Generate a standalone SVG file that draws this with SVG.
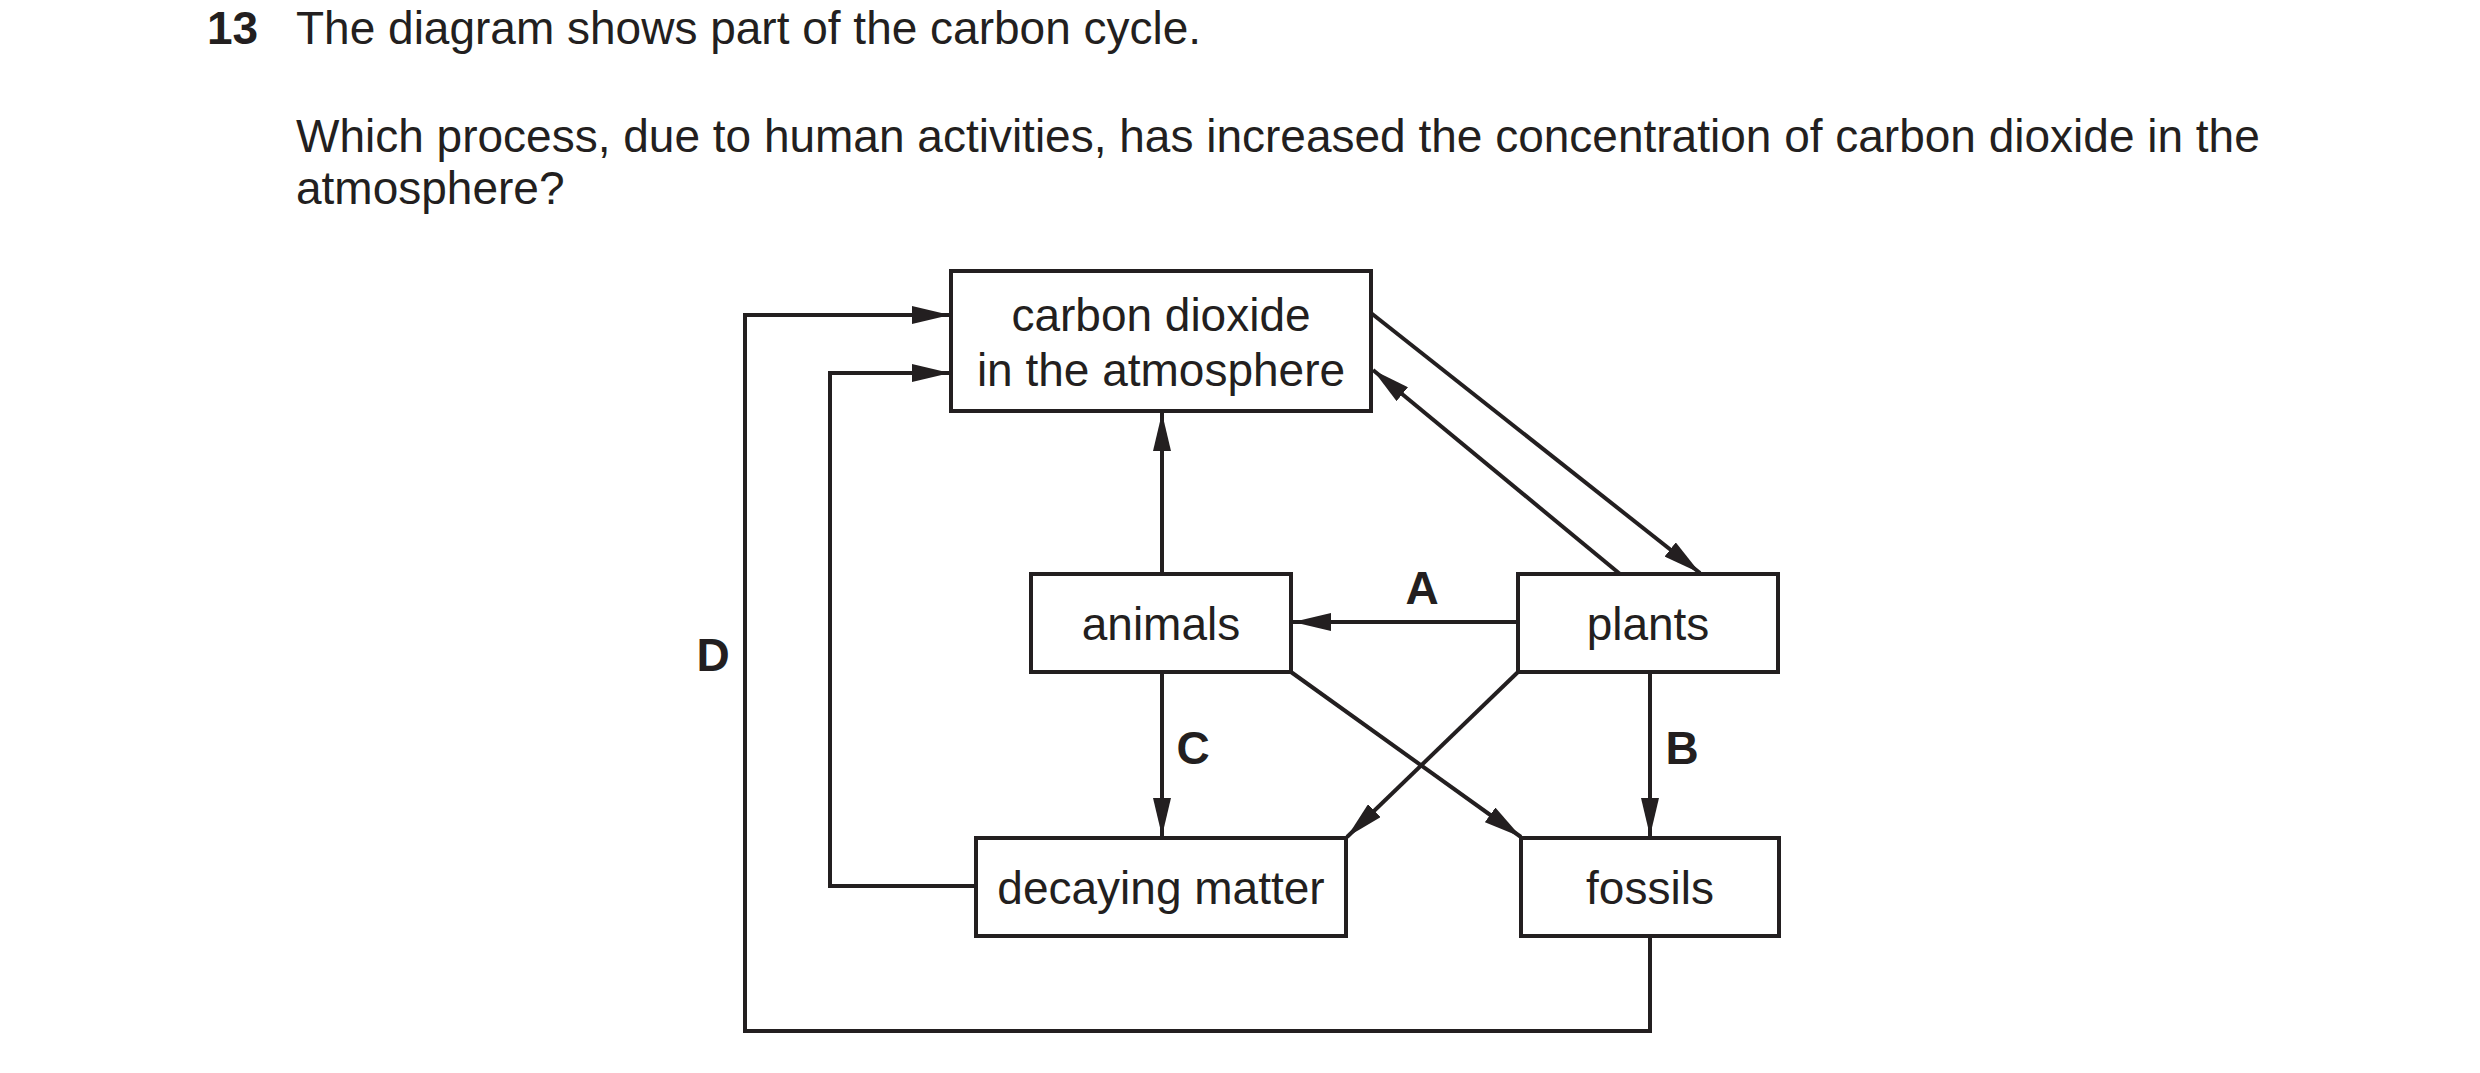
<svg xmlns="http://www.w3.org/2000/svg" width="2480" height="1073" viewBox="0 0 2480 1073">
<style>
text{font-family:"Liberation Sans",Arial,sans-serif;fill:#231f20}
.t{font-size:46px}
.n{font-size:46px;text-anchor:middle}
.l{font-size:46px;font-weight:bold;text-anchor:middle}
rect{fill:#fff;stroke:#231f20;stroke-width:4}
.c{fill:none;stroke:#231f20;stroke-width:4}
</style>
<defs>
<marker id="b" viewBox="0 0 38 18" refX="38" refY="9" markerWidth="38" markerHeight="18" markerUnits="userSpaceOnUse" orient="auto"><path d="M0,0L38,9L0,18z" fill="#231f20"/></marker></defs>
<text x="207" y="44" class="t" font-weight="bold">13</text>
<text x="296" y="44" class="t">The diagram shows part of the carbon cycle.</text>
<text x="296" y="152" class="t">Which process, due to human activities, has increased the concentration of carbon dioxide in the</text>
<text x="296" y="204" class="t">atmosphere?</text>
<g id="connectors">
<path class="c" d="M1650,936V1031H745V315H950" marker-end="url(#b)"/>
<path class="c" d="M976,886H830V373H950" marker-end="url(#b)"/>
<path class="c" d="M1162,574V413" marker-end="url(#b)"/>
<path class="c" d="M1518,622H1293" marker-end="url(#b)"/>
<path class="c" d="M1162,672V836" marker-end="url(#b)"/>
<path class="c" d="M1650,672V836" marker-end="url(#b)"/>
<path class="c" d="M1371,313L1700,573" marker-end="url(#b)"/>
<path class="c" d="M1620,574L1373,370" marker-end="url(#b)"/>
<path class="c" d="M1518,672L1347,837" marker-end="url(#b)"/>
<path class="c" d="M1291,672L1521,837" marker-end="url(#b)"/>
</g>
<g id="co2"><rect x="951" y="271" width="420" height="140"/><text class="n" x="1161" y="331">carbon dioxide</text><text class="n" x="1161" y="386">in the atmosphere</text></g>
<g id="animals"><rect x="1031" y="574" width="260" height="98"/><text class="n" x="1161" y="640">animals</text></g>
<g id="plants"><rect x="1518" y="574" width="260" height="98"/><text class="n" x="1648" y="640">plants</text></g>
<g id="decaying"><rect x="976" y="838" width="370" height="98"/><text class="n" x="1161" y="904">decaying matter</text></g>
<g id="fossils"><rect x="1521" y="838" width="258" height="98"/><text class="n" x="1650" y="904">fossils</text></g>
<g id="labels">
<text class="l" x="1422" y="604">A</text>
<text class="l" x="1682" y="764">B</text>
<text class="l" x="1193" y="764">C</text>
<text class="l" x="713" y="671">D</text>
</g>
</svg>
